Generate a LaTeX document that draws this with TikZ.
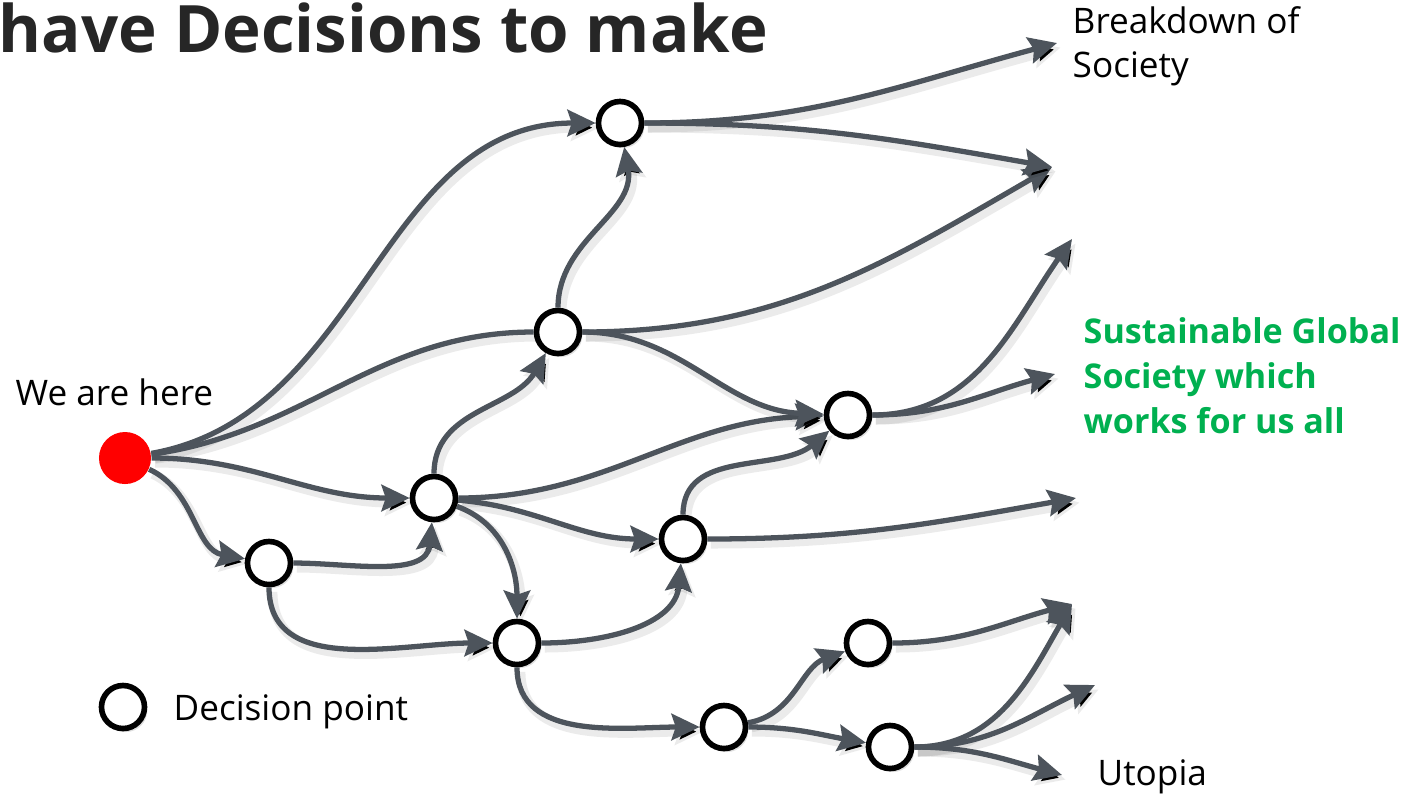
\documentclass[tikz,border=0pt]{standalone}
\usepackage{fontspec}
\setmainfont{Open Sans}
\usepackage{tikz}
\usetikzlibrary{arrows.meta,shadows}
\definecolor{flowgray}{RGB}{77,84,92}
\definecolor{goalgreen}{RGB}{0,176,80}
\definecolor{titlegray}{RGB}{38,38,38}
\tikzset{
  decision/.style={circle, draw=black, fill=white, line width=1.6pt, minimum size=0.43cm, inner sep=0pt,
    drop shadow={opacity=0.25, shadow xshift=0.8pt, shadow yshift=-1pt}},
  here/.style={circle, fill=red, minimum size=0.52cm, inner sep=0pt},
  link/.style={draw=flowgray, line width=1.5pt,
    preaction={draw=black, draw opacity=0.08, line width=2.8pt, transform canvas={xshift=1pt, yshift=-1.3pt}}},
  flow/.style={link, -{Stealth[length=8pt,width=7.5pt,inset=1.2pt]}},
  plaintext/.style={anchor=base west, inner sep=0pt, font=\fontsize{10pt}{12.5pt}\selectfont}
}

\begin{document}
\begin{tikzpicture}[x=0.01cm, y=-0.01cm]
			%%%%% START %%%%%
			\useasboundingbox (0,0) rectangle (1409,793);
			
			\node[plaintext, font=\bfseries\fontsize{18.6pt}{22pt}\selectfont, text=titlegray] (title) at (-2,52) {have Decisions to make};
			
			\node[here] (start) at (125,458) {};
			\node[plaintext] (herelabel) at (15,405) {We are here};
			
			\node[decision] (d1) at (269,563) {};
			\node[decision] (d2) at (434,498) {};
			\node[decision] (d3) at (558,332) {};
			\node[decision] (d4) at (620,123) {};
			\node[decision] (d5) at (848,415) {};
			\node[decision] (d6) at (683,539) {};
			\node[decision] (d7) at (517,643) {};
			\node[decision] (d8) at (724,727) {};
			\node[decision] (d9) at (868,643) {};
			\node[decision] (d10) at (890,747) {};
			
			\coordinate (e1) at (1057,43);
			\coordinate (e2) at (1052,167);
			\coordinate (e3) at (1072,239);
			\coordinate (e4) at (1055,374);
			\coordinate (e5) at (1076,498);
			\coordinate (e6) at (1072,604);
			\coordinate (e7) at (1095,685);
			\coordinate (e8) at (1062,775);
			
			% from here
			\draw[flow] (start) to[out=10, in=180] (d4);
			\draw[link] (start) to[out=8, in=180] (d3);
			\draw[flow] (start) to[out=0, in=180] (d2);
			\draw[flow] (start) to[out=-25, in=170] (d1);
			
			\draw[flow] (d1) to[out=0, in=-95] (d2);
			\draw[flow] (d1) to[out=-90, in=180] (d7);
			
			\draw[flow] (d2) to[out=90, in=-120] (d3);
			\draw[flow] (d2) to[out=0, in=182] (d5);
			\draw[flow] (d2) to[out=-5, in=180] (d6);
			\draw[flow] (d2) to[out=-20, in=90] (d7);
			
			\draw[flow] (d3) to[out=90, in=-80] (d4);
			\draw[flow] (d3) to[out=0, in=-150] (e2);
			\draw[flow] (d3) to[out=0, in=178] (d5);
			
			\draw[flow] (d4) to[out=0, in=195] (e1);
			\draw[flow] (d4) to[out=0, in=170] (e2);
			
			\draw[flow] (d5) to[out=0, in=-125] (e3);
			\draw[flow] (d5) to[out=0, in=195] (e4);
			
			\draw[flow] (d6) to[out=90, in=-140] (d5);
			\draw[flow] (d6) to[out=0, in=190] (e5);
			
			\draw[flow] (d7) to[out=0, in=-95] (d6);
			\draw[flow] (d7) to[out=-90, in=180] (d8);
			
			\draw[flow] (d8) to[out=10, in=200] (d9);
			\draw[flow] (d8) to[out=0, in=170] (d10);
			
			\draw[flow] (d9) to[out=0, in=195] (e6);
			\draw[flow] (d10) to[out=0, in=-120] (e6);
			\draw[flow] (d10) to[out=0, in=205] (e7);
			\draw[flow] (d10) to[out=0, in=165] (e8);
			
			% outcomes
			\node[plaintext, align=left, font=\fontsize{10pt}{12.3pt}\selectfont] (breakdown) at (1072,77) {Breakdown of\\Society};
			\node[plaintext, align=left, font=\bfseries\fontsize{9.7pt}{12.7pt}\selectfont, text=goalgreen] (goal) at (1083,433) {Sustainable Global\\Society which\\works for us all};
			\node[plaintext] (utopia) at (1097,785) {Utopia};
			
			% legend
			\node[decision] (key) at (123,707) {};
			\node[plaintext] (keylabel) at (173,720) {Decision point};
			%%%%% END %%%%%
\end{tikzpicture}
\end{document}
